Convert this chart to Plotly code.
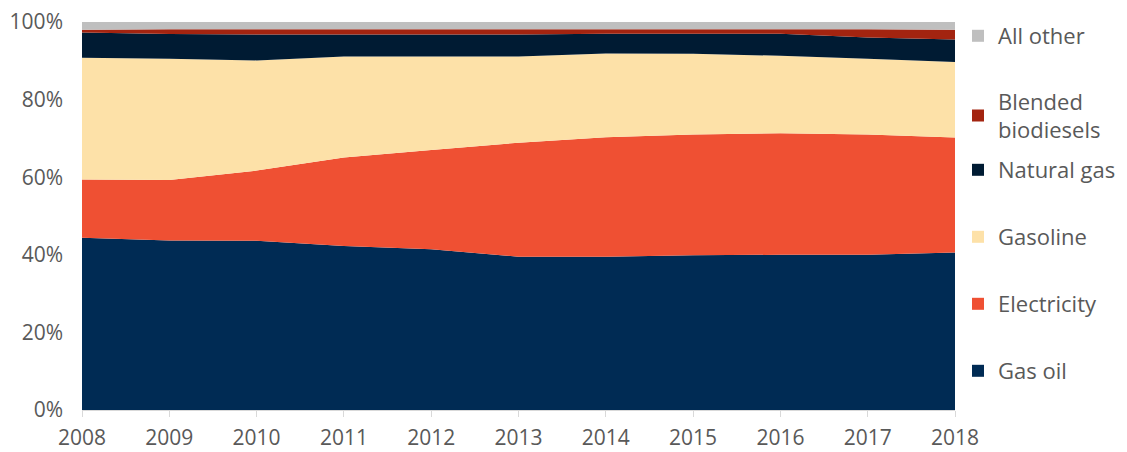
import plotly.graph_objects as go

years = [2008, 2009, 2010, 2011, 2012, 2013, 2014, 2015, 2016, 2017, 2018]
gas_oil = [44.4, 43.7, 43.6, 42.3, 41.4, 39.5, 39.5, 39.9, 40.0, 40.0, 40.6]
electricity = [15.0, 15.6, 18.1, 22.8, 25.6, 29.4, 30.8, 31.1, 31.3, 31.0, 29.6]
gasoline = [31.4, 31.2, 28.4, 26.0, 24.1, 22.2, 21.6, 20.8, 20.0, 19.5, 19.5]
natural_gas = [6.5, 6.4, 6.7, 5.7, 5.7, 5.7, 5.1, 5.2, 5.7, 5.5, 5.8]
blended_biodiesels = [0.7, 1.2, 1.3, 1.3, 1.3, 1.3, 1.1, 1.1, 1.1, 2.1, 2.5]
all_other = [2.0, 1.9, 1.9, 1.9, 1.9, 1.9, 1.9, 1.9, 1.9, 1.9, 2.0]

y_ticks = [0, 20, 40, 60, 80, 100]
y_tick_labels = ["0%", "20%", "40%", "60%", "80%", "100%"]

series = [
    ("Gas oil", gas_oil, "#002B54"),
    ("Electricity", electricity, "#EF5033"),
    ("Gasoline", gasoline, "#FDE1A8"),
    ("Natural gas", natural_gas, "#001B33"),
    ("Blended<br>biodiesels", blended_biodiesels, "#A32410"),
    ("All other", all_other, "#BFBFBF"),
]

# page is offset by the 8px body margin; work in figure coordinates
OFF = 8
W, H = 1127 - OFF, 452 - OFF
plot_top, plot_bottom, plot_left, plot_right = 22 - OFF, 410 - OFF, 82 - OFF, 955 - OFF
legend_centres_px = [371 - OFF, 304 - OFF, 237 - OFF, 170 - OFF, 116 - OFF, 36 - OFF]
legend_left_px = 958 - OFF

fig = go.Figure()
layout_legends = {}
for i, (name, vals, color) in enumerate(series):
    lg = "legend" if i == 0 else f"legend{i+1}"
    fig.add_trace(go.Scatter(
        x=years, y=vals, name=name, mode="none",
        stackgroup="one", groupnorm="percent",
        fillcolor=color, showlegend=False, legendgroup=name,
    ))
    # legend entry with a square swatch
    fig.add_trace(go.Scatter(
        x=[None], y=[None], name=name, mode="markers",
        marker=dict(symbol="square", size=12, color=color),
        legend=lg, legendgroup=name, showlegend=True, hoverinfo="skip",
    ))
    ypx = legend_centres_px[i]
    layout_legends[lg] = dict(
        x=(legend_left_px - plot_left) / (plot_right - plot_left),
        y=(plot_bottom - ypx) / (plot_bottom - plot_top),
        xanchor="left", yanchor="middle",
        font=dict(family="Open Sans", size=22, color="#595959"),
        itemwidth=30, bgcolor="rgba(0,0,0,0)",
    )

fig.update_layout(
    width=W, height=H,
    margin=dict(l=plot_left, r=W - plot_right, t=plot_top, b=H - plot_bottom, autoexpand=False),
    plot_bgcolor="white", paper_bgcolor="white",
    font=dict(family="Open Sans", size=21, color="#595959"),
    showlegend=True,
    xaxis=dict(
        range=[2008, 2018], tickmode="array", tickvals=years,
        showgrid=False, zeroline=False, automargin=False,
        showline=True, linecolor="#D9D9D9", linewidth=1,
        ticks="outside", ticklen=6, tickcolor="#D9D9D9",
        tickfont=dict(size=21, color="#595959"),
        ticklabelstandoff=3, ticklabeloverflow="allow",
    ),
    yaxis=dict(
        range=[0, 100], tickmode="array", tickvals=y_ticks, ticktext=y_tick_labels,
        showgrid=False, zeroline=False, showline=False, automargin=False,
        tickfont=dict(size=21, color="#595959"),
        ticklabelstandoff=18, ticklabeloverflow="allow",
    ),
    **layout_legends,
)

fig.write_html("out.html")
